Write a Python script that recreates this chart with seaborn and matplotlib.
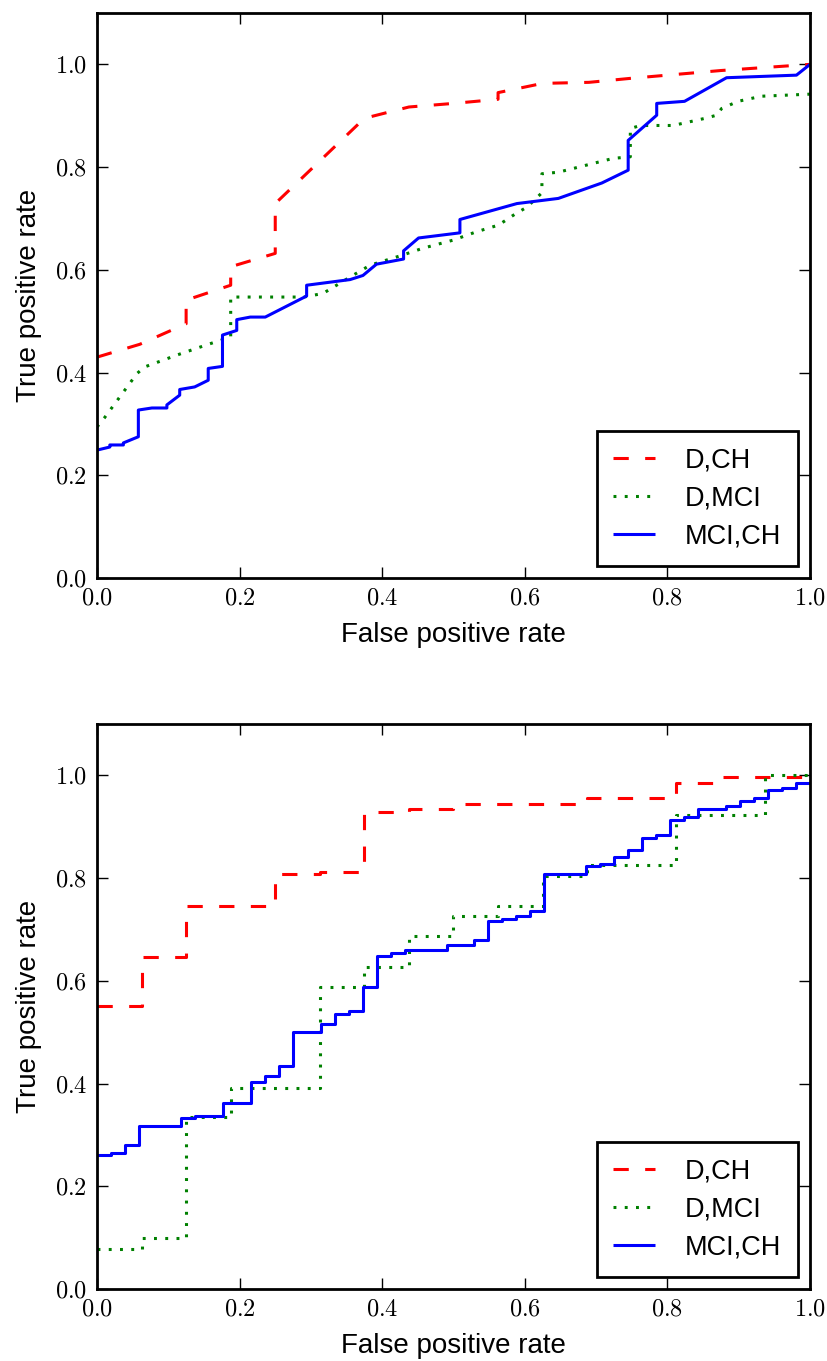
import numpy as np
import pandas as pd
import matplotlib
matplotlib.use("Agg")
import matplotlib.pyplot as plt
from matplotlib.ticker import FuncFormatter
import seaborn as sns

# ---------------- data ----------------
labels = ["D,CH", "D,MCI", "MCI,CH"]

# top panel (interpolated ROC curves)
top_dch_x = [0.0, 0.06, 0.125, 0.125, 0.1875, 0.1875, 0.25, 0.25, 0.375, 0.4375,
             0.5, 0.5625, 0.5625, 0.625, 0.69, 0.75, 0.875, 1.0]
top_dch_y = [0.43, 0.455, 0.495, 0.541, 0.57, 0.606, 0.632, 0.729, 0.895, 0.917,
             0.924, 0.932, 0.945, 0.963, 0.965, 0.973, 0.988, 1.0]

top_dmci_x = [0.0, 0.01, 0.037, 0.056, 0.067, 0.112, 0.156, 0.1875, 0.1875, 0.29,
              0.317, 0.355, 0.383, 0.427, 0.457, 0.5, 0.532, 0.563, 0.588, 0.603,
              0.624, 0.624, 0.647, 0.724, 0.748, 0.748, 0.762, 0.808, 0.853, 0.869,
              0.876, 0.899, 0.932, 1.0]
top_dmci_y = [0.294, 0.311, 0.362, 0.398, 0.411, 0.434, 0.455, 0.469, 0.547, 0.547,
              0.554, 0.586, 0.609, 0.628, 0.642, 0.658, 0.674, 0.687, 0.710, 0.722,
              0.750, 0.787, 0.790, 0.817, 0.820, 0.875, 0.881, 0.881, 0.895, 0.901,
              0.914, 0.928, 0.938, 0.942]

top_mcich_x = [0.0, 0.018, 0.018, 0.037, 0.037, 0.058, 0.058, 0.077, 0.098, 0.098,
               0.116, 0.116, 0.137, 0.156, 0.156, 0.176, 0.176, 0.196, 0.196, 0.215,
               0.236, 0.294, 0.294, 0.355, 0.373, 0.392, 0.43, 0.43, 0.451, 0.509,
               0.509, 0.589, 0.647, 0.708, 0.745, 0.745, 0.785, 0.785, 0.824, 0.883,
               0.981, 1.0]
top_mcich_y = [0.249, 0.255, 0.259, 0.259, 0.263, 0.275, 0.327, 0.331, 0.331, 0.337,
               0.356, 0.367, 0.372, 0.385, 0.408, 0.412, 0.473, 0.482, 0.503, 0.508,
               0.508, 0.549, 0.570, 0.581, 0.589, 0.611, 0.621, 0.637, 0.662, 0.672,
               0.698, 0.729, 0.739, 0.769, 0.794, 0.852, 0.901, 0.924, 0.928, 0.974,
               0.979, 1.0]

# bottom panel (step ROC curves: value holds from x until next x)
bot_dch_x = [0.0, 0.0625, 0.125, 0.25, 0.3125, 0.375, 0.4375, 0.5, 0.6875, 0.8125,
             0.875, 1.0]
bot_dch_y = [0.551, 0.647, 0.746, 0.807, 0.812, 0.929, 0.935, 0.945, 0.955, 0.986,
             0.997, 0.997]

bot_dmci_x = [0.0, 0.0625, 0.125, 0.1875, 0.3125, 0.375, 0.4375, 0.5, 0.5625, 0.625,
              0.6875, 0.8125, 0.9375, 1.0]
bot_dmci_y = [0.078, 0.099, 0.335, 0.392, 0.588, 0.627, 0.687, 0.727, 0.746, 0.805,
              0.825, 0.922, 1.0, 1.0]

bot_mcich_x = [0.0, 0.0196, 0.0392, 0.0588, 0.1176, 0.1373, 0.1765, 0.2157, 0.2353,
               0.2549, 0.2745, 0.3137, 0.3333, 0.3529, 0.3725, 0.3922, 0.4118, 0.4314,
               0.4902, 0.5294, 0.5490, 0.5686, 0.5882, 0.6078, 0.6275, 0.6863, 0.7059,
               0.7255, 0.7451, 0.7647, 0.7843, 0.8039, 0.8235, 0.8431, 0.8824, 0.9020,
               0.9216, 0.9412, 0.9608, 0.9804, 1.0]
bot_mcich_y = [0.261, 0.265, 0.281, 0.317, 0.332, 0.337, 0.363, 0.403, 0.414, 0.435,
               0.501, 0.516, 0.536, 0.541, 0.588, 0.648, 0.654, 0.660, 0.669, 0.679,
               0.716, 0.721, 0.726, 0.735, 0.807, 0.823, 0.828, 0.842, 0.854, 0.879,
               0.883, 0.914, 0.919, 0.935, 0.940, 0.950, 0.955, 0.971, 0.975, 0.986,
               0.986]

x_ticks = [0.0, 0.2, 0.4, 0.6, 0.8, 1.0]
y_ticks = [0.0, 0.2, 0.4, 0.6, 0.8, 1.0]
x_label = "False positive rate"
y_label = "True positive rate"

# ---------------- style ----------------
sns.set_style("white")
plt.rcParams["font.family"] = ["Liberation Sans", "DejaVu Sans"]
plt.rcParams["mathtext.fontset"] = "cm"
plt.rcParams["lines.scale_dashes"] = False
plt.rcParams["text.color"] = "black"
plt.rcParams["axes.labelcolor"] = "black"
plt.rcParams["xtick.color"] = "black"
plt.rcParams["ytick.color"] = "black"

colors = ["#ff0000", "#008000", "#0000ff"]
dash_patterns = [(11, 11.8), (2.1, 6.0), None]
lw = 2.2

fig = plt.figure(figsize=(8.28, 13.61), dpi=100)
ax_top = fig.add_axes([97 / 828, 1 - 578 / 1361, 713 / 828, 565 / 1361])
ax_bot = fig.add_axes([97 / 828, 1 - 1289 / 1361, 713 / 828, 565 / 1361])

panels = [
    (ax_top, [(top_dch_x, top_dch_y), (top_dmci_x, top_dmci_y), (top_mcich_x, top_mcich_y)], "default"),
    (ax_bot, [(bot_dch_x, bot_dch_y), (bot_dmci_x, bot_dmci_y), (bot_mcich_x, bot_mcich_y)], "steps-post"),
]

for ax, curves, ds in panels:
    for (xs, ys), lab, col, dp in zip(curves, labels, colors, dash_patterns):
        df = pd.DataFrame({"fpr": xs, "tpr": ys})
        sns.lineplot(data=df, x="fpr", y="tpr", ax=ax, color=col, label=lab,
                     estimator=None, sort=False, linewidth=lw, drawstyle=ds)
        line = ax.lines[-1]
        line.set_dash_capstyle("butt")
        line.set_solid_capstyle("butt")
        if dp is not None:
            line.set_dashes(dp)
    ax.set_xlim(0, 1)
    ax.set_ylim(0, 1.1)
    ax.set_xticks(x_ticks)
    ax.set_yticks(y_ticks)
    fmt = FuncFormatter(lambda v, p: r"$%.1f$" % v)
    ax.xaxis.set_major_formatter(fmt)
    ax.yaxis.set_major_formatter(fmt)
    ax.tick_params(axis="both", which="major", direction="in", top=True, right=True,
                   bottom=True, left=True, length=8, width=1.0, color="black",
                   labelcolor="black", labelsize=17.5, pad=7)
    ax.set_xlabel(x_label, fontsize=20, labelpad=9, color="black")
    ax.set_ylabel(y_label, fontsize=20, labelpad=9, color="black")
    for s in ax.spines.values():
        s.set_visible(True)
        s.set_linewidth(2.0)
        s.set_color("black")
    ax.grid(False)
    leg = ax.legend(loc="lower right", fontsize=19.5, frameon=True, fancybox=False,
                    framealpha=1.0, edgecolor="black", handlelength=1.55,
                    handletextpad=1.1, borderpad=0.6, labelspacing=0.45,
                    borderaxespad=0.45)
    leg.get_frame().set_linewidth(2.0)
    for t in leg.get_texts():
        t.set_color("black")
    for h in leg.get_lines():
        h.set_linewidth(lw)

fig.savefig("out.png", dpi=100)
